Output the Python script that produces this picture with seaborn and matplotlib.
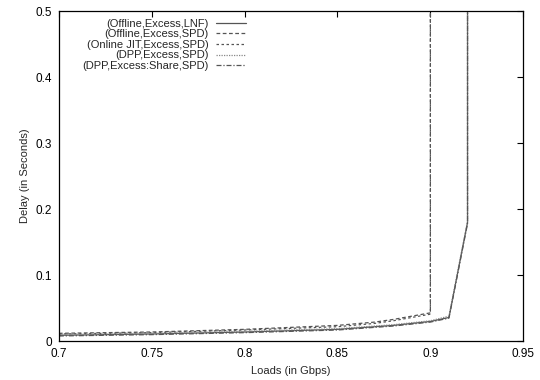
import matplotlib
matplotlib.use("Agg")
import matplotlib.pyplot as plt
import seaborn as sns
import pandas as pd

sns.set_style("white")
plt.rcParams['font.family'] = ['Liberation Sans', 'DejaVu Sans']

labels = ["(Offline,Excess,LNF)", "(Offline,Excess,SPD)", "(Online JIT,Excess,SPD)",
          "(DPP,Excess,SPD)", "(DPP,Excess:Share,SPD)"]

loads_a = [0.70, 0.75, 0.80, 0.85, 0.87, 0.88, 0.89, 0.90, 0.90]
loads_b = [0.70, 0.75, 0.80, 0.85, 0.88, 0.90, 0.91, 0.92, 0.92]

delay_lnf = [0.009, 0.011, 0.014, 0.018, 0.024, 0.030, 0.036, 0.180, 1.0]
delay_off_spd = [0.012, 0.014, 0.018, 0.024, 0.029, 0.033, 0.038, 0.043, 1.0]
delay_jit_spd = [0.011, 0.013, 0.017, 0.022, 0.027, 0.031, 0.036, 0.041, 1.0]
delay_dpp_spd = [0.010, 0.012, 0.015, 0.019, 0.025, 0.031, 0.038, 0.182, 1.0]
delay_dpp_share = [0.008, 0.010, 0.013, 0.017, 0.023, 0.029, 0.035, 0.178, 1.0]

series = [
    (labels[0], loads_b, delay_lnf, '-', '#555555'),
    (labels[1], loads_a, delay_off_spd, (0, (3, 2)), '#555555'),
    (labels[2], loads_a, delay_jit_spd, (0, (2, 2)), '#555555'),
    (labels[3], loads_b, delay_dpp_spd, (0, (1, 1)), '#888888'),
    (labels[4], loads_b, delay_dpp_share, (0, (4, 1.5, 1, 1.5)), '#555555'),
]

fig, ax = plt.subplots(figsize=(5.4, 3.8), dpi=100)
fig.subplots_adjust(left=0.109, right=0.969, top=0.971, bottom=0.102)

for lab, xs, ys, ls, col in series:
    df = pd.DataFrame({"x": xs, "y": ys})
    sns.lineplot(data=df, x="x", y="y", sort=False, ax=ax, color=col,
                 linestyle=ls, linewidth=0.9, label=lab, estimator=None)

ax.set_xlim(0.7, 0.95)
ax.set_ylim(0, 0.5)
ax.set_xticks([0.7, 0.75, 0.8, 0.85, 0.9, 0.95])
ax.set_xticklabels(["0.7", "0.75", "0.8", "0.85", "0.9", "0.95"])
ax.set_yticks([0, 0.1, 0.2, 0.3, 0.4, 0.5])
ax.set_yticklabels(["0", "0.1", "0.2", "0.3", "0.4", "0.5"])
ax.tick_params(direction='in', length=4, width=0.8, labelsize=8.5, top=True, right=True,
               colors='black', pad=5)
for s in ax.spines.values():
    s.set_color('black')
    s.set_linewidth(0.9)
ax.set_xlabel("Loads (in Gbps)", fontsize=8)
ax.set_ylabel("Delay (in Seconds)", fontsize=8)

ax.legend(loc='upper right', bbox_to_anchor=(0.42, 1.0), frameon=False,
          markerfirst=False, fontsize=8, handlelength=2.7, labelspacing=0.05,
          borderaxespad=0.3, handletextpad=0.7)

fig.savefig("out.png", dpi=100)
